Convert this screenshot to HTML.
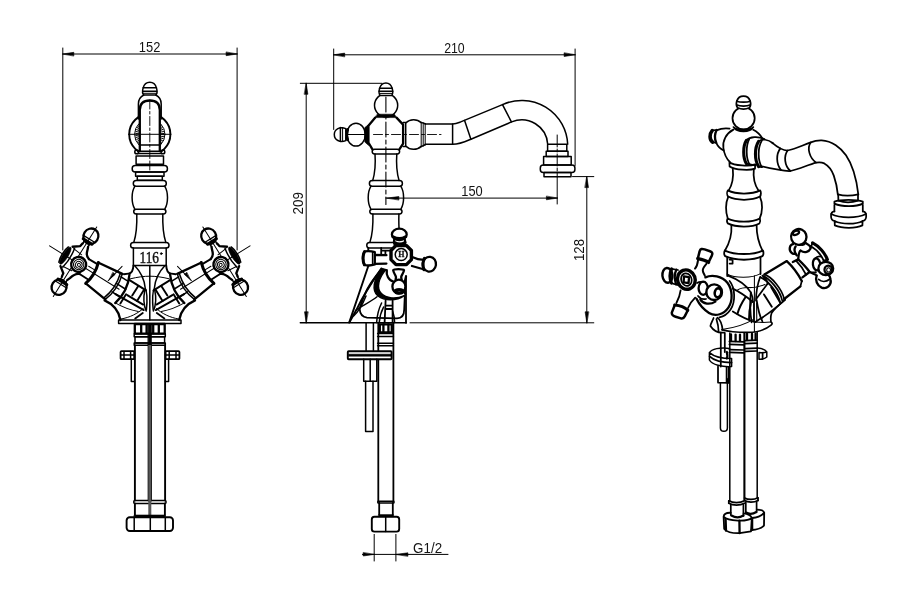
<!DOCTYPE html>
<html><head><meta charset="utf-8"><title>Faucet drawing</title>
<style>
html,body{margin:0;padding:0;background:#fff;}
body{width:900px;height:589px;overflow:hidden;font-family:"Liberation Sans",sans-serif;}
svg{display:block;filter:grayscale(1)}
svg *{fill:none;stroke:#000;stroke-width:1.5;stroke-linecap:round;stroke-linejoin:round}
svg .t{stroke-width:1.0}
svg .k{stroke-width:2.3}
svg .kk{stroke-width:3}
svg .f{fill:#000;stroke-width:0.6}
svg .w{fill:#fff}
svg .ws{fill:#fff;stroke:none}
#right *{stroke-width:1.75}
#right .t{stroke-width:1.05}
#right .k{stroke-width:2.3}
#right .kk{stroke-width:3.1}
#right .f{stroke-width:0.6}
svg .d{stroke-width:0.9;stroke-dasharray:9 2.5 2.5 2.5}
svg text{opacity:.99;fill:#111;stroke:none;font-family:"Liberation Sans",sans-serif;font-size:14.2px}
svg text.s{font-family:"Liberation Serif",serif;font-size:15.5px}
</style></head><body>
<svg width="900" height="589" viewBox="0 0 900 589">
<rect class="ws" x="0" y="0" width="900" height="589"/>

<g id="left">
<line x1="62.8" y1="48.0" x2="62.8" y2="250.0" class="t"/>
<line x1="237.1" y1="48.0" x2="237.1" y2="250.0" class="t"/>
<line x1="62.8" y1="54.0" x2="237.1" y2="54.0" class="t"/>
<polygon class="f" points="62.8,54.0 73.8,52.3 73.8,55.7"/>
<polygon class="f" points="237.1,54.0 226.1,55.7 226.1,52.3"/>
<text x="149.6" y="52.3" text-anchor="middle" textLength="21.5" lengthAdjust="spacingAndGlyphs">152</text>
<circle cx="149.8" cy="134.3" r="20.6" class="k" style="stroke-width:1.9"/>
<circle cx="149.8" cy="134.3" r="15.2" class="t"/>
<circle cx="149.8" cy="134.3" r="12.6" style="stroke-width:3.6;stroke-dasharray:0.9 0.9;stroke-linecap:butt"/>
<line x1="128.5" y1="134.3" x2="171.0" y2="134.3" class="t"/>
<rect class="ws" x="139.4" y="100" width="20.8" height="56"/>
<rect class="ws" x="134.8" y="152" width="30" height="6"/>
<path d="M143.8,95 C141.60000000000002,93 142.20000000000002,82.2 149.8,82.2 C157.4,82.2 158.0,93 155.8,95 Z"/>
<line x1="143.2" y1="87.8" x2="156.4" y2="87.8"/>
<line x1="142.8" y1="91.2" x2="156.8" y2="91.2"/>
<line x1="143.4" y1="93.3" x2="156.2" y2="93.3" class="t"/>
<path d="M143.8,95 C139.8,97 138.4,100 138.4,104 L138.4,119 M155.8,95 C159.8,97 161.20000000000002,100 161.20000000000002,104 L161.20000000000002,119"/>
<path d="M139.8,151.2 L139.8,110 C139.8,104 142.8,100.5 149.8,100.5 C156.8,100.5 159.8,104 159.8,110 L159.8,151.2" class="k"/>
<line x1="139.8" y1="134.3" x2="159.8" y2="134.3" class="t"/>
<line x1="139.8" y1="145.1" x2="159.8" y2="145.1"/>
<line x1="137.8" y1="151.2" x2="161.8" y2="151.2"/>
<circle cx="136.70000000000002" cy="151.9" r="1.9"/>
<circle cx="162.9" cy="151.9" r="1.9"/>
<path d="M137.60000000000002,153.5 L162.0,153.5"/>
<rect x="136.1" y="156.0" width="27.4" height="8.3" rx="0"/>
<rect x="132.2" y="165.4" width="35.2" height="6.7" rx="3"/>
<rect x="135.6" y="172.1" width="28.4" height="4.2" rx="0"/>
<rect x="137.3" y="176.3" width="25.0" height="3.9" rx="0"/>
<line x1="149.8" y1="100.0" x2="149.8" y2="170.0" class="d"/>
<rect x="133.3" y="180.6" width="33.0" height="5.7" rx="2.8500000000000085"/>
<path d="M134.8,186.3 C131.2,192 131.2,203 134.8,209.2 M164.8,186.3 C168.4,192 168.4,203 164.8,209.2"/>
<rect x="133.7" y="209.2" width="32.2" height="4.7" rx="2.3500000000000085"/>
<path d="M136.8,213.9 C137.2,228 135.8,236 133.8,242.4"/>
<path d="M162.8,213.9 C162.4,228 163.8,236 165.8,242.4"/>
<rect x="130.6" y="242.4" width="38.4" height="5.5" rx="2.75"/>
<path d="M133.4,247.9 L133.4,265.4 L166.20000000000002,265.4 L166.20000000000002,247.9"/>
<text class="s" x="139.6" y="263.4" textLength="19.4" lengthAdjust="spacingAndGlyphs" style="font-size:16.6px;stroke:#111;stroke-width:0.45">116</text>
<circle cx="161.3" cy="253.6" r="0.9" class="f" style="stroke-width:0.8"/>
<g transform="translate(75,261.7) rotate(32)">
<g>
<line x1="-30.0" y1="0.0" x2="52.0" y2="0.0" class="t"/>
<line x1="0.0" y1="-41.0" x2="0.0" y2="41.0" class="t"/>
<path d="M55.5,-13.3 L75.5,-13.3 M62,0.6 L80.5,0.3 M51.5,6 L84,4.6" class="k" style="stroke-width:1.9"/>
<path d="M47,-11.6 L55.5,-11.6 M47.4,6 L57,6 M47,-3.5 L57.6,-3.5"/>
<path d="M53,-18 C58,-8 58.6,4 56,13.8" class="k"/>
<path d="M66.5,-13 L66.5,-1.6 M60.6,0.6 L60.6,11.4 M73.4,-13 L73.4,0.4" class="k" style="stroke-width:1.9"/>
<path d="M56,13.6 C64,13.4 72,12 80,8.6" class="t"/>
<path d="M20.6,-11.6 L46.6,-14.8 M21,12.8 L45.6,15.9" class="k"/>
<path d="M46.6,-14.8 C49.4,-5 49.4,6 45.6,15.9 M44.6,-14.5 C47.2,-5 47.2,6 43.6,15.6"/>
<polygon class="f" points="38,-11 40.8,-10.5 38.6,-3.8"/>
<line x1="42.4" y1="-21.0" x2="38.2" y2="-1.6" class="t"/>
<path d="M20.2,-11.6 C22.8,-4 22.8,5 20.6,12.8" class="kk"/>
<path d="M10.4,-9.6 L20.2,-9.8 M10.4,8 L20.6,8.2" class="k" style="stroke-width:1.9"/>
<path d="M14,-3.4 L21,-3.4" class="t"/>
<path d="M-3.3,-19.4 L-3.8,-16 L-10,-11.4 M-3.3,19.4 L-3.8,16 L-10,11.4 M3.3,-19.4 L4.4,-16.6 C5.4,-12.6 7.4,-10.2 10.4,-9.6 M3.3,19.4 L4.4,16.6 C5.4,12.6 7.4,9 10.4,8" class="k"/>
<ellipse class="k" cx="0" cy="-30" rx="7.4" ry="7.9"/>
<path class="kk" d="M-5.2,-23.8 L5.2,-23.8"/>
<path d="M-3.3,-22.6 L-2.8,-19.4 M3.3,-22.6 L3,-19.4"/>
<path class="k" d="M-6.8,-26.8 L6.8,-26.8" style="stroke-width:1.2"/>
<ellipse class="k" cx="0" cy="30" rx="7.4" ry="7.9"/>
<path class="kk" d="M-5.2,23.8 L5.2,23.8"/>
<path d="M-3.3,22.6 L-2.8,19.4 M3.3,22.6 L3,19.4"/>
<path class="k" d="M-6.8,26.8 L6.8,26.8" style="stroke-width:1.2"/>
<ellipse class="f" cx="-11.4" cy="0" rx="2.7" ry="10"/>
<path d="M-13.4,-9 C-15.4,-4 -15.4,4 -13.4,9"/>
<path d="M-8,-10.4 L2,-9.4 M-8,10.4 L2,9.4" class="t"/>
<path d="M-7.4,-11 C-6,-4 -6,4 -7.4,11"/>
<circle class="w" cx="4.6" cy="0.4" r="7.5" style="stroke-width:2.4"/>
<circle cx="4.6" cy="0.4" r="5.2" class="t"/>
<circle cx="4.8" cy="0.6" r="3.3" class="t"/>
<circle cx="5" cy="0.6" r="1.5" class="t"/>
</g>
</g>
<g transform="translate(224.6,261.7) scale(-1,1) rotate(32)">
<g>
<line x1="-30.0" y1="0.0" x2="52.0" y2="0.0" class="t"/>
<line x1="0.0" y1="-41.0" x2="0.0" y2="41.0" class="t"/>
<path d="M55.5,-13.3 L75.5,-13.3 M62,0.6 L80.5,0.3 M51.5,6 L84,4.6" class="k" style="stroke-width:1.9"/>
<path d="M47,-11.6 L55.5,-11.6 M47.4,6 L57,6 M47,-3.5 L57.6,-3.5"/>
<path d="M53,-18 C58,-8 58.6,4 56,13.8" class="k"/>
<path d="M66.5,-13 L66.5,-1.6 M60.6,0.6 L60.6,11.4 M73.4,-13 L73.4,0.4" class="k" style="stroke-width:1.9"/>
<path d="M56,13.6 C64,13.4 72,12 80,8.6" class="t"/>
<path d="M20.6,-11.6 L46.6,-14.8 M21,12.8 L45.6,15.9" class="k"/>
<path d="M46.6,-14.8 C49.4,-5 49.4,6 45.6,15.9 M44.6,-14.5 C47.2,-5 47.2,6 43.6,15.6"/>
<polygon class="f" points="38,-11 40.8,-10.5 38.6,-3.8"/>
<line x1="42.4" y1="-21.0" x2="38.2" y2="-1.6" class="t"/>
<path d="M20.2,-11.6 C22.8,-4 22.8,5 20.6,12.8" class="kk"/>
<path d="M10.4,-9.6 L20.2,-9.8 M10.4,8 L20.6,8.2" class="k" style="stroke-width:1.9"/>
<path d="M14,-3.4 L21,-3.4" class="t"/>
<path d="M-3.3,-19.4 L-3.8,-16 L-10,-11.4 M-3.3,19.4 L-3.8,16 L-10,11.4 M3.3,-19.4 L4.4,-16.6 C5.4,-12.6 7.4,-10.2 10.4,-9.6 M3.3,19.4 L4.4,16.6 C5.4,12.6 7.4,9 10.4,8" class="k"/>
<ellipse class="k" cx="0" cy="-30" rx="7.4" ry="7.9"/>
<path class="kk" d="M-5.2,-23.8 L5.2,-23.8"/>
<path d="M-3.3,-22.6 L-2.8,-19.4 M3.3,-22.6 L3,-19.4"/>
<path class="k" d="M-6.8,-26.8 L6.8,-26.8" style="stroke-width:1.2"/>
<ellipse class="k" cx="0" cy="30" rx="7.4" ry="7.9"/>
<path class="kk" d="M-5.2,23.8 L5.2,23.8"/>
<path d="M-3.3,22.6 L-2.8,19.4 M3.3,22.6 L3,19.4"/>
<path class="k" d="M-6.8,26.8 L6.8,26.8" style="stroke-width:1.2"/>
<ellipse class="f" cx="-11.4" cy="0" rx="2.7" ry="10"/>
<path d="M-13.4,-9 C-15.4,-4 -15.4,4 -13.4,9"/>
<path d="M-8,-10.4 L2,-9.4 M-8,10.4 L2,9.4" class="t"/>
<path d="M-7.4,-11 C-6,-4 -6,4 -7.4,11"/>
<circle class="w" cx="4.6" cy="0.4" r="7.5" style="stroke-width:2.4"/>
<circle cx="4.6" cy="0.4" r="5.2" class="t"/>
<circle cx="4.8" cy="0.6" r="3.3" class="t"/>
<circle cx="5" cy="0.6" r="1.5" class="t"/>
</g>
</g>
<path d="M133.4,265.4 C133.20000000000002,270.5 131.20000000000002,273.4 128.4,273.6 L123.80000000000001,274.2" class="k" style="stroke-width:1.9"/>
<path d="M104.60000000000001,300.4 C112.80000000000001,304 118.80000000000001,310.5 120.4,320" class="k"/>
<path d="M134.8,265.8 C140.8,272 144.4,280 145.20000000000002,288 C147.20000000000002,292 147.4,300 146.4,310" />
<path d="M144.8,290.4 C143.4,297 143.60000000000002,305 146.20000000000002,311" />
<path d="M130.4,278.8 C137.8,277 143.8,276.2 149.8,276.2" class="t"/>
<path d="M121.00000000000001,319 C129.8,317.6 137.8,313.4 143.20000000000002,308.6" class="t"/>
<path d="M135.20000000000002,318.4 L142.8,313" class="k" style="stroke-width:1.8"/>
<g transform="translate(299.6,0) scale(-1,1)">
<path d="M133.4,265.4 C133.20000000000002,270.5 131.20000000000002,273.4 128.4,273.6 L123.80000000000001,274.2" class="k" style="stroke-width:1.9"/>
<path d="M104.60000000000001,300.4 C112.80000000000001,304 118.80000000000001,310.5 120.4,320" class="k"/>
<path d="M134.8,265.8 C140.8,272 144.4,280 145.20000000000002,288 C147.20000000000002,292 147.4,300 146.4,310" />
<path d="M144.8,290.4 C143.4,297 143.60000000000002,305 146.20000000000002,311" />
<path d="M130.4,278.8 C137.8,277 143.8,276.2 149.8,276.2" class="t"/>
<path d="M121.00000000000001,319 C129.8,317.6 137.8,313.4 143.20000000000002,308.6" class="t"/>
<path d="M135.20000000000002,318.4 L142.8,313" class="k" style="stroke-width:1.8"/>
</g>
<line x1="149.8" y1="265.4" x2="149.8" y2="320.0"/>
<rect x="118.6" y="320.0" width="62.4" height="3.5" rx="0"/>
<rect x="134.8" y="324.0" width="29.9" height="9.6" rx="0" class="k"/>
<line x1="141.2" y1="324.5" x2="141.2" y2="333.2" class="k"/>
<line x1="146.6" y1="324.5" x2="146.6" y2="333.2" class="k"/>
<line x1="153.2" y1="324.5" x2="153.2" y2="333.2" class="k"/>
<line x1="158.8" y1="324.5" x2="158.8" y2="333.2" class="k"/>
<rect class="f" x="148.10000000000002" y="324" width="3.4" height="21"/>
<rect x="134.2" y="333.8" width="31.1" height="3.0" rx="0"/>
<rect x="135.0" y="336.8" width="29.6" height="6.2" rx="0"/>
<rect x="134.2" y="343.0" width="31.1" height="2.2" rx="0"/>
<path d="M134.9,345.2 L134.9,500.6 M148.60000000000002,345.2 L148.60000000000002,500.6 M151.0,345.2 L151.0,500.6 M165.1,345.2 L165.1,500.6" class="k" style="stroke-width:1.9"/>
<rect x="120.6" y="351.1" width="13.6" height="8.1" rx="0.8" class="k" style="stroke-width:1.8"/>
<line x1="120.6" y1="355.1" x2="134.2" y2="355.1"/>
<rect x="165.6" y="351.1" width="13.8" height="8.1" rx="0.8" class="k" style="stroke-width:1.8"/>
<line x1="165.6" y1="355.1" x2="179.4" y2="355.1"/>
<line x1="124.0" y1="351.5" x2="124.0" y2="359.0"/>
<line x1="176.0" y1="351.5" x2="176.0" y2="359.0"/>
<line x1="130.6" y1="351.5" x2="130.6" y2="359.0"/>
<line x1="169.2" y1="351.5" x2="169.2" y2="359.0"/>
<path d="M131.3,359.2 L131.3,381.6 L134.2,381.6 M168.6,359.2 L168.6,381.6 L165.4,381.6"/>
<rect x="133.8" y="500.6" width="32.2" height="2.8" rx="1"/>
<path d="M134.9,503.4 L134.9,515 M164.9,503.4 L164.9,515" class="k" style="stroke-width:1.9"/>
<rect class="f" x="148.3" y="345" width="3" height="172" style="fill:#555;stroke:none"/>
<rect x="134.4" y="515.0" width="30.9" height="2.0" rx="0" class="f"/>
<rect x="126.6" y="517.2" width="46.4" height="13.8" rx="3.2" class="k" style="stroke-width:1.9"/>
<line x1="134.2" y1="517.5" x2="134.2" y2="530.8"/>
<line x1="150.3" y1="517.5" x2="150.3" y2="530.8"/>
<line x1="165.3" y1="517.5" x2="165.3" y2="530.8"/>
</g>
<g id="mid">
<line x1="333.7" y1="49.0" x2="333.7" y2="129.5" class="t"/>
<line x1="575.1" y1="49.0" x2="575.1" y2="165.5" class="t"/>
<line x1="333.7" y1="54.8" x2="575.1" y2="54.8" class="t"/>
<polygon class="f" points="333.7,54.8 344.7,53.1 344.7,56.5"/>
<polygon class="f" points="575.1,54.8 564.1,56.5 564.1,53.1"/>
<text x="454.4" y="52.6" text-anchor="middle" textLength="20.5" lengthAdjust="spacingAndGlyphs">210</text>
<line x1="300.3" y1="83.3" x2="382.0" y2="83.3" class="t"/>
<line x1="306.2" y1="83.3" x2="306.2" y2="322.8" class="t"/>
<polygon class="f" points="306.2,83.3 307.9,94.3 304.5,94.3"/>
<polygon class="f" points="306.2,322.8 304.5,311.8 307.9,311.8"/>
<text transform="translate(302.6,203.2) rotate(-90)" text-anchor="middle" textLength="22.5" lengthAdjust="spacingAndGlyphs">209</text>
<line x1="300.3" y1="322.8" x2="406.4" y2="322.8"/>
<line x1="410.0" y1="322.8" x2="593.8" y2="322.8" class="t"/>
<line x1="385.9" y1="198.1" x2="557.4" y2="198.1" class="t"/>
<polygon class="f" points="557.4,198.1 546.4,199.8 546.4,196.4"/>
<polygon class="f" points="386.9,198.1 398.9,196.5 398.9,199.7"/>
<text x="472" y="196.2" text-anchor="middle" textLength="21.4" lengthAdjust="spacingAndGlyphs">150</text>
<line x1="572.5" y1="176.6" x2="593.8" y2="176.6" class="t"/>
<line x1="586.8" y1="176.6" x2="586.8" y2="322.8" class="t"/>
<polygon class="f" points="586.8,176.6 588.5,187.6 585.1,187.6"/>
<polygon class="f" points="586.8,322.8 585.1,311.8 588.5,311.8"/>
<text transform="translate(583.6,250) rotate(-90)" text-anchor="middle" textLength="22" lengthAdjust="spacingAndGlyphs">128</text>
<circle cx="386.09999999999997" cy="105.3" r="11.6"/>
<path d="M380.29999999999995,95.6 C378.09999999999997,93.6 378.7,83 385.9,83 C393.09999999999997,83 393.7,93.6 391.5,95.6 Z" class="w"/>
<line x1="379.5" y1="88.3" x2="392.3" y2="88.3"/>
<line x1="379.1" y1="91.2" x2="392.7" y2="91.2"/>
<line x1="379.7" y1="93.4" x2="392.1" y2="93.4" class="t"/>
<path class="f" d="M377.4,114.2 L394.4,114.2 L396.5,117.6 L375.29999999999995,117.6 Z"/>
<path d="M375.29999999999995,117.6 L368.4,125.8 L368.4,142.5 L372.29999999999995,149.2 M396.5,117.6 L403.09999999999997,124.6 L403.09999999999997,143.6 L399.5,149.2" class="k"/>
<rect x="372.2" y="149.2" width="27.4" height="4.7" rx="2.3500000000000085"/>
<path d="M375.0,153.9 C375.7,164 375.29999999999995,172 372.7,180.6 M396.79999999999995,153.9 C396.09999999999997,164 396.5,172 399.09999999999997,180.6"/>
<rect x="369.4" y="180.6" width="33.0" height="5.7" rx="2.8500000000000085"/>
<path d="M370.9,186.3 C367.3,192 367.3,203 370.9,209.2 M400.9,186.3 C404.5,192 404.5,203 400.9,209.2"/>
<rect x="369.8" y="209.2" width="32.2" height="4.7" rx="2.3500000000000085"/>
<path d="M372.9,213.9 C373.3,228 371.9,236 369.9,242.4"/>
<path d="M398.9,213.9 C398.7,222 398.9,228 399.29999999999995,232"/>
<path d="M393.9,242.4 L369.5,242.4 A2.7,2.7 0 0 0 369.5,247.9 L391.9,247.9"/>
<ellipse cx="356" cy="134.6" rx="9.3" ry="11.4"/>
<path d="M347.6,129.6 C346.4,133 346.4,136.6 347.6,139.6" class="kk"/>
<path d="M345.8,128.6 L345.8,140.6 C340,143 334.3,140 334.3,134.5 C334.3,129 340,126.2 345.8,128.6 Z" class="w"/>
<line x1="340.4" y1="127.6" x2="340.4" y2="141.4"/>
<line x1="342.6" y1="127.4" x2="342.6" y2="141.6" class="t"/>
<line x1="345.8" y1="131.0" x2="347.4" y2="131.0"/>
<line x1="345.8" y1="138.0" x2="347.4" y2="138.0"/>
<line x1="347.4" y1="134.5" x2="364.8" y2="134.5" class="t"/>
<path class="f" d="M364.8,127.6 L368.6,124.6 L368.6,145.4 L364.8,142 Z"/>
<path d="M403.09999999999997,122.4 L405.7,122.4 L405.7,146.6 L403.09999999999997,146.6"/>
<path d="M405.7,123 C410,118.6 417,118.6 421.2,122.6 M405.7,146 C410,150.4 417,150.4 421.2,146.4"/>
<path d="M421.2,122.4 L421.2,146.6 M423.2,122.8 L423.2,146.2 M425.2,123.6 L425.2,145" class="t"/>
<path d="M421.2,122.4 L425.2,123.8 M421.2,146.6 L425.2,144.8"/>
<line x1="385.9" y1="97.0" x2="385.9" y2="204.5" class="d" style="stroke-dasharray:15 3 4 3;stroke-width:1.1"/>
<line x1="373.5" y1="134.5" x2="441.0" y2="134.5" class="d" style="stroke-dasharray:9 3 3 3"/>
<path d="M425.2,124 L452.6,124 C456,124 458,123 460.7,121.9 L502.5,104.6 A46,46 0 0 1 567.7,144.3"/>
<path d="M425.2,144.3 L452.6,144.3 C460,144.3 465,141.8 470.9,139.2 L511.6,121.9 A26,26 0 0 1 547.7,144.3"/>
<line x1="452.6" y1="124.0" x2="452.6" y2="144.3"/>
<line x1="464.6" y1="120.4" x2="470.9" y2="139.2"/>
<line x1="502.5" y1="104.6" x2="511.4" y2="121.9"/>
<rect x="547.6" y="144.3" width="19.2" height="6.9" rx="0"/>
<rect x="546.2" y="151.2" width="21.8" height="5.3" rx="0"/>
<rect x="543.6" y="156.5" width="27.6" height="8.5" rx="0"/>
<rect x="540.3" y="165.0" width="34.6" height="7.4" rx="3"/>
<rect x="544.0" y="172.4" width="27.0" height="4.4" rx="0"/>
<line x1="557.2" y1="135.0" x2="557.2" y2="176.8" class="t" style="stroke-dasharray:12 2 3 2"/>
<line x1="557.2" y1="176.8" x2="557.2" y2="204.0" class="t"/>
<path d="M368.3,247.9 L368.3,266 L349.2,322.6" class="k" style="stroke-width:1.9"/>
<path d="M406,276 L406,322.8" class="k" style="stroke-width:1.8"/>
<path d="M381.4,268.4 C372,282 362,298 356.4,309.8 L349.6,322" class="k" style="stroke-width:1.9"/>
<path d="M380.2,270.8 C374,278 370,284 367.2,289.2 C364,296 361.6,302 359.6,308.6" class="k" style="stroke-width:1.8"/>
<path d="M356.4,309.8 C362,306 372,301 377,296.8"/>
<path d="M353.6,316 C358,312 362,306 366,296" />
<path d="M382.4,268.6 C373,279 371.6,291 378,296 C384,300.6 396,301.6 404.2,295.6 C396,299.6 386,298.4 381.4,293.6 C376,288 378.6,278 386,269.6 Z" class="f" style="stroke-width:1.4"/>
<path d="M386.8,270.2 C386,275 388.6,280.6 393.4,281.6" class="k"/>
<path d="M359.6,308.8 C360,314 362,317.2 367,317.6 L397,318.4 C402,318.4 404.2,315 404.2,309.6 L404.8,296" class="k" style="stroke-width:1.8"/>
<path d="M385.6,300.6 L384.6,322.6 M392.6,300.6 L392.6,322.6 M385.4,305.6 L392.6,305.6 M385.2,309 L392.6,309" class="k" style="stroke-width:1.8"/>
<path d="M383.6,307 C381,312 379.6,317 379.2,322.6 M381.6,303 C378.6,309 377,316 376.6,322.6"/>
<path d="M406,276.6 C404.6,281 404.6,288 405.2,294" class="k"/>
<path d="M392.6,311 C394,315 394.6,319 394.6,322.6"/>
<path d="M374.8,255 L386.4,255.2 M374.8,263.8 L386.4,263.6" class="k"/>
<path d="M364.6,251.4 C368,250.8 372,251.2 374.8,252.2 L374.8,264.4 C372,265.4 368,265.8 364.6,265 C362.4,262 362.4,254.6 364.6,251.4 Z" class="w k"/>
<path d="M364.4,251.8 C362.6,255.6 362.6,261.4 364.4,264.8" class="kk"/>
<line x1="372.6" y1="252.0" x2="372.6" y2="264.8"/>
<path d="M381.2,248 L381.2,254.8 M381.2,250.6 L389.6,250.6 M385.4,250.6 L385.4,254.8" class="k" style="stroke-width:1.8"/>
<ellipse class="w k" cx="399.3" cy="234.4" rx="7.4" ry="5.7"/>
<path d="M393,236.8 C397,239 402,239 405.6,236.8" class="kk"/>
<path d="M394.2,239.6 C393.6,241.6 394,243.6 394.8,245.4 M404.8,239.6 C405.6,241.6 405.4,243.6 404.8,245.4" class="k"/>
<path d="M394.6,242.6 C398,244.4 402,244.4 405,242.6" class="kk"/>
<path d="M412.8,257.2 C416,258.6 419.6,259.8 422.6,259.6 M412,266 C416,267.2 419.6,268.2 422.6,269" class="k"/>
<ellipse class="w k" cx="429.3" cy="264.2" rx="6.7" ry="7.4" transform="rotate(8 429.3 264.2)"/>
<path d="M424.4,258.4 C422.8,262 422.8,266.4 424,269.8" class="kk"/>
<path class="w" d="M396,245.6 L406.4,245.6 L411.4,250.4 L411.4,259.6 L406.4,264.6 L396,264.6 L391,259.6 L391,250.4 Z" style="stroke-width:3.4"/>
<circle cx="401.2" cy="254.6" r="6" style="stroke-width:1.5"/>
<text class="s" x="401.3" y="257.4" text-anchor="middle" style="font-size:8px;font-weight:bold;stroke:#111;stroke-width:0.3">H</text>
<path d="M393.2,270.2 C394,268.8 403,268.8 404,270.2 C403.6,273.4 401.6,274.6 401.2,277 L401.6,280 M393.2,270.2 C393.6,273.4 395.6,274.8 396,277.2 L395.6,280" class="k"/>
<ellipse class="w k" cx="398.9" cy="286.6" rx="6.5" ry="6.9"/>
<path d="M394,291 C396,289 402,289 404,291" class="k"/>
<ellipse cx="399.2" cy="291.4" rx="3.6" ry="1.7" class="kk"/>
<path d="M366.1,323 L366.1,351 M373.4,323 L373.4,351"/>
<path d="M378.3,323 L378.3,501 M393.4,323 L393.4,501" class="k" style="stroke-width:1.8"/>
<rect x="379.8" y="324.4" width="12.0" height="8.0" rx="0" class="k"/>
<line x1="383.4" y1="324.4" x2="383.4" y2="332.4" class="k"/>
<line x1="388.4" y1="324.4" x2="388.4" y2="332.4" class="k"/>
<path d="M377.6,333.6 L393.4,333.6 M377.6,336.6 L393.4,336.6 M377.6,343.2 L393.4,343.2 M377.6,345.8 L393.4,345.8"/>
<rect x="347.8" y="351.2" width="43.8" height="8.0" rx="0.8" class="w k" style="stroke-width:1.9"/>
<rect class="f" x="348.6" y="354.2" width="42.4" height="2"/>
<path d="M363.7,359.2 L363.7,381.2 L376.8,381.2 L376.8,359.2 M370.2,359.2 L370.2,381.2"/>
<path d="M365.6,381.2 L365.6,431.4 L373,431.4 L373,381.2"/>
<rect x="377.8" y="501.2" width="16.2" height="1.8" rx="0.6"/>
<path d="M379.2,503 L379.2,514.8 M392.8,503 L392.8,514.8" class="k" style="stroke-width:1.8"/>
<rect x="378.8" y="514.6" width="14.6" height="2.0" rx="0" class="f"/>
<rect x="371.8" y="516.8" width="27.4" height="14.8" rx="2.6" class="k" style="stroke-width:1.9"/>
<line x1="385.7" y1="517.0" x2="385.7" y2="531.4"/>
<line x1="374.2" y1="534.4" x2="374.2" y2="561.0" class="t"/>
<line x1="395.9" y1="534.4" x2="395.9" y2="561.0" class="t"/>
<line x1="362.4" y1="554.4" x2="448.0" y2="554.4" class="t"/>
<polygon class="f" points="374.2,554.4 363.2,556.0 363.2,552.8"/>
<polygon class="f" points="395.9,554.4 407.9,552.8 407.9,556.0"/>
<text x="427.6" y="552.8" text-anchor="middle" textLength="29" lengthAdjust="spacingAndGlyphs" style="font-size:13.8px">G1/2</text>
</g>
<g id="right">
<circle cx="743.6" cy="118.3" r="11.1"/>
<path d="M737.6,107.8 C735.4,105 736,96 743.5,96 C751,96 751.6,105 749.4,107.8 C746,109.4 741,109.4 737.6,107.8 Z" class="w"/>
<path d="M736.8,101.2 C740,102.4 747,102.4 750.2,101.2 M737,105 C740,106.4 747,106.4 750,105"/>
<path d="M733.4,127 C737,130.4 750,130.4 753.4,127 C750,132.8 737,132.8 733.4,127 Z" class="f" style="stroke-width:1.6"/>
<path d="M733.4,129.6 C726,133.4 722.4,141 723.4,148 C724.2,154.6 727.4,159.6 730,162.2"/>
<path d="M753.2,129.8 C757,131.6 760,134.4 762.6,138.6"/>
<path d="M729.6,128.6 C724.4,127.8 720,128.8 716.4,130.4 M716,142.4 C717.6,146 720.4,149 723.6,150.4"/>
<path d="M716.6,130 C714.6,134 714.6,139 716.2,142.6" class="k"/>
<path d="M712.2,130.6 C709.2,134 709.4,139.6 712.6,142.2" class="kk" style="stroke-width:3.6"/>
<path d="M712.2,130.4 L716.6,130 M712.6,142.4 L716.2,142.6"/>
<path d="M746.4,140.4 C742.8,146 742.8,158 746.4,163.6" class="kk"/>
<path d="M749.2,139.2 C745.8,146 745.8,158 749.6,164.4"/>
<path d="M746.4,140.4 C750,136.6 758,136.2 764.4,139 M746.4,163.6 L749.6,164.4"/>
<path d="M758.6,141.4 C754.4,148 754.4,160 758.6,166.6" class="kk"/>
<path d="M761.8,140.6 C757.6,148 757.6,160 761.8,167.2"/>
<path d="M758.6,141.4 C762,138.4 768,139.4 773,143.2 M758.6,166.6 L761.8,167.2"/>
<path d="M749.6,164.4 L755.6,165.4"/>
<path d="M772,142.6 C776,146 782,150.6 787.6,150.5 C796,149 803,145 810.7,142.4 C814,141 818,140.3 821.6,140.4 C832,140.8 841,148 846,155.3 C852,164 856.4,178 858.3,194.4"/>
<path d="M761.8,166.4 C768,168 774,169 778.2,169.6 C783,170.6 787,171.2 790.4,171 C799,169 808,165 816.1,162.7 C819,162.2 822,162.4 824.3,163.4 C829,166 832,170.4 833.8,175.6 C836,182 837.2,188 837.8,194.4"/>
<path d="M780.4,148.4 C776,154 776,164 781,170 M787.6,150.5 C783.6,156 784.4,166 790.4,171 M810.7,142.4 C806.6,148 809.6,158 816.1,162.6"/>
<path d="M837.8,194.4 C843,195.8 852,195.8 858.3,194.4"/>
<path d="M838.2,194.6 L838.4,200.6 M858,194.6 L858,200.6 M838.4,200.6 C844,202.6 852,202.6 858,200.6"/>
<path d="M834.4,201.6 C840,199.4 857,199.4 862.8,201.6 L862.8,211.4 M834.4,201.6 L834.4,211.4 M834.4,203.6 C842,207 856,207 862.8,203.6"/>
<path d="M834.4,211.4 C832,211.6 831,213 831,216 C831,219 832,220.6 834.6,221 M862.8,211.4 C865.2,211.6 866.2,213 866.2,216 C866.2,219 865.2,220.6 862.6,221"/>
<path d="M831.2,214 C840,218.4 857,218.4 866,214 M834.6,221 C842,224.6 856,224.6 862.6,221 M834.6,221 L834.8,225.4 C842,228.6 856,228.6 862.4,225.4 L862.6,221"/>
<path d="M729.4,162.2 C734,165.6 750,166.6 755.2,164.4 M729.4,162.2 L729.6,166.4 C735,170 750,170.6 755,168.6 L755.2,164.4"/>
<path d="M732.8,168.6 C733.6,176 733.4,183 728.6,190.6 M753.8,169.4 C753,177 754,184 758.6,190.8"/>
<path d="M727.8,190.4 C726.8,192 726.8,195 728.2,196.6 C736,200.8 752,200.8 760,196.6 C761.2,195 761.2,192 760.2,190.4 M727.8,190.4 C736,194.6 752,194.6 760.2,190.4"/>
<path d="M728.2,196.8 C725.4,203 725.4,212 727.8,218.6 M760,196.8 C762.8,203 762.8,212 759.6,218.6"/>
<path d="M727.6,218.6 C726.8,220 726.8,222 727.8,223.4 C736,227.6 752,227.6 759.4,223.4 C760.4,222 760.4,220 759.8,218.6 M727.6,218.6 C736,222.6 752,222.6 759.8,218.6"/>
<path d="M731.4,225.4 C732,235 729.6,243 724.9,250.8 M756.6,225.4 C756.6,235 758.6,243 762.6,250.8"/>
<path d="M724.9,250.6 C724,252 724,254.8 725.2,256.2 C735,260.8 753,260.8 762.4,256.2 C763.6,254.8 763.6,252 762.8,250.6 M724.9,250.6 C735,255.2 753,255.2 762.8,250.6" class="k" style="stroke-width:2"/>
<path d="M727.2,257.4 L727.2,276 M760.5,257.4 L760.5,274"/>
<path d="M729.6,259.6 L732.6,260 L732.6,263.6 L729.6,263.6"/>
<path d="M727,274 C735,278.4 752,278.4 760.6,273.6" class="t"/>
<path d="M764.4,274.4 L786.4,261.2 M784.2,299 L800.4,286.4" class="k"/>
<path d="M764.4,274.4 C772,277 782,289 784.2,299 M762.4,275.6 C770,278.6 780,290.4 782.2,300.4" class="k" style="stroke-width:1.7"/>
<path d="M786.8,261.2 C792,266 798,274 801.8,281" class="k"/>
<path d="M801.8,281 L800.4,286.4"/>
<path d="M792.8,262 L798.2,259.4 C802,263 806.6,267.6 809.6,272 L802.4,277.4" class="k"/>
<path d="M796,260.6 C800,264.6 803.6,269.6 806,274.6"/>
<path d="M798.2,259.4 C798.6,254 799.6,251 800.6,250.6 M809.6,272 C812,272.6 814,272.8 815.6,272.4" class="k"/>
<path d="M812.6,242.8 C819,246 825,253 827.4,259.6" class="kk"/>
<path d="M810.4,246 C816,249 821,254.6 823.6,260.4"/>
<path d="M810.6,247.6 L812.6,242.8 M823.6,260.6 L827.4,259.6"/>
<ellipse cx="798.8" cy="236.9" rx="7.7" ry="7.9" transform="rotate(-20 798.8 236.9)" class="k"/>
<ellipse cx="796" cy="232.8" rx="3.2" ry="1.9" transform="rotate(-25 796 232.8)" class="k"/>
<path d="M793,244.2 C789.4,245 788.6,250 791.4,252.6 C792.6,253.8 794,254 795,253.6" class="k"/>
<path d="M795.6,246.4 C794,249 794.4,252.6 796.8,255.4" class="k"/>
<path d="M805.6,243 C808.6,244.6 810.8,247 810.6,248.4 C809,251.6 805,253.6 800.6,250.6" class="k"/>
<path d="M800.4,244.6 C802,245.6 804,245.2 805.6,243"/>
<ellipse cx="816.6" cy="264.4" rx="3.7" ry="6.1" transform="rotate(-8 816.6 264.4)" class="k"/>
<ellipse cx="825.8" cy="268.4" rx="7.4" ry="6.6" class="w k"/>
<ellipse cx="828.3" cy="269.7" rx="3.8" ry="4.1" class="k"/>
<ellipse cx="828.6" cy="269.9" rx="1.9" ry="2.2" class="t"/>
<path d="M815,258.6 C816.6,256.6 819,256 821,256.6"/>
<path d="M816.6,275.6 C815,280 817,285.6 821.6,287.6 C827,289.6 831.6,285 830.6,279.4 C830.4,277.6 829.6,276 828.6,274.8" class="k"/>
<path d="M818.6,279.4 C821.6,282 826,282 829.6,279.2"/>
<path d="M809.6,272 C812,273.6 814.6,274.6 816.8,275.4"/>
<path d="M705.4,277.4 C712,274.4 722,276 727.6,283 C732.6,289.6 733,301 728.4,307.6 C724,314 716,317.2 709,313 C703.6,309.6 699,304 696.4,298.6" class="k"/>
<path d="M729.6,281 C735.4,288 735.6,302 730.6,309.6 C727.6,314 724,316.6 719.4,317.4"/>
<path d="M697.8,258.6 L699.6,251.4 C700.4,248.6 702,248.6 704.6,249.4 L710,251.2 C712.4,252 712.8,253.4 711.8,255.6 L708.6,262.2" class="k" style="stroke-width:2.5"/>
<path d="M697.8,258.6 C701,259.2 706,260.6 708.6,262.4" class="kk" style="stroke-width:3.3"/>
<path d="M698,260.4 C697.6,264 696.8,266.6 695,268.6 M706.4,263.8 C704,266.6 702.6,269 702.8,270.6 C703,272.6 704,274 704.8,275.6" class="k" style="stroke-width:2"/>
<ellipse cx="667.4" cy="275.4" rx="5" ry="7.4" transform="rotate(-6 667.4 275.4)" class="k" style="stroke-width:2.4"/>
<path d="M671.6,269 C669.8,273 669.8,279 671.4,283" class="kk" style="stroke-width:3.2"/>
<path d="M676.4,269.6 C674.6,273.4 674.6,280 676,284.4" class="k"/>
<path d="M671.6,268.8 L678,270 M671.4,283.2 L677.6,285"/>
<path d="M674.8,305 L671.8,312.6 C671.6,315 673,316 675.6,316.8 L681,318.4 C683,318.8 684,318 684.6,316.6 L687.8,310.2" class="k" style="stroke-width:2.5"/>
<path d="M674.8,305 C679,305.4 685,307.6 687.8,310.2" class="kk"/>
<path d="M676.4,303 C678.6,299 680,295 680.6,290.4 M688,308 C689.6,304 692,300.6 695.2,297.6" class="k" style="stroke-width:1.8"/>
<ellipse cx="686.4" cy="279.6" rx="8.8" ry="9.8" transform="rotate(-20 686.4 279.6)" class="w" style="stroke-width:3.4"/>
<ellipse cx="686.4" cy="279.6" rx="5.2" ry="6.4" transform="rotate(-20 686.4 279.6)" style="stroke-width:1.7"/>
<path d="M684,276.4 L689,277.2 L688.6,283.2 L683.6,282.4 Z" class="k"/>
<ellipse cx="703.2" cy="288.2" rx="4.6" ry="6.6" class="w k"/>
<path d="M697,283 C699,281.6 701,281.6 703,282 M698,296 C700,298.6 703,299.6 706,299"/>
<ellipse cx="714.2" cy="292.2" rx="7.8" ry="7.8" class="w k"/>
<ellipse cx="718" cy="292.8" rx="3.3" ry="4.5" transform="rotate(8 718 292.8)" style="stroke-width:2.6"/>
<path d="M700.4,299.6 C703,304 710,305 715.4,301.6" class="k"/>
<path d="M732.8,288.6 C740,292 747,297 753,302 M732.8,311.4 C740,316 748,320 755.4,322" class="k" style="stroke-width:1.8"/>
<path d="M745.2,297.6 C741.6,303 739,308 737.4,314 M751,302.4 C749.6,308 749,314 749,319.6" class="k" style="stroke-width:1.9"/>
<path d="M767.4,284 L756.6,298.4 M785.2,299.6 C778,306 770,312.4 762.6,317.4" class="k" style="stroke-width:1.7"/>
<path d="M771.2,287.2 L780,302.2 M764,294.4 L771.8,306.8" class="k" style="stroke-width:1.9"/>
<path d="M760.6,277.4 C768,280.6 777.6,292 780,302" class="k" style="stroke-width:1.7"/>
<path d="M763.2,276.6 C766,279 768,281.6 767.4,284 M762.6,317.4 C760,319 757.6,320.4 755.4,322"/>
<path d="M728,275.6 C737,279 746.4,285 750.8,292.4 C752.4,296 753,299 753,302" />
<path d="M760.2,276.8 C757.6,284 756,293 756,300.6"/>
<path d="M750.8,292.4 C749.8,302 750,312 751.6,322.4 M756.6,300 C757.8,308 759.6,316 762.4,321.4"/>
<path d="M753.6,303 L753.6,322 M756.6,303 L756.8,322" class="t"/>
<path d="M737.6,290 C741,287.8 745,287.4 749.6,287.6 C755,287.6 760,286.4 765,284.6" class="t"/>
<line x1="754.4" y1="275.8" x2="754.4" y2="331.6" class="t"/>
<path d="M785.2,299.6 C780,304 774,309 771.6,313 C770.6,316 770.6,319 771,322 C772.4,323 772.4,324 771.4,324.8 C765,330 757,332.4 748,332.4 C738,332.4 728,331.6 722,329.8" class="k" style="stroke-width:1.7"/>
<path d="M713.6,318 C712,322 710.4,324.6 710.4,326 C713,330 718,333.4 724.6,332.6"/>
<path d="M722.6,330 C722,324 720.6,320 717.4,317.6 M716.4,319 C718,324 718.6,328 718.6,331.6"/>
<path d="M722,329.6 C735,327.6 746,324 753,319.6" class="t"/>
<path d="M771,322 C766,322.6 760,322.6 755.4,322" class="t"/>
<path d="M720.8,332.6 L720.8,366.6 M724.8,333.4 L724.8,352"/>
<path d="M729.8,333 L729.8,501 M757.2,332 L757.2,498" class="k" style="stroke-width:1.5"/>
<path d="M744.4,333.6 L744.4,500" class="k" style="stroke-width:2.1"/>
<path d="M731,334.4 L731,341 M735.6,334.6 L735.6,341 M740,334.6 L740,341 M747,334 L747,340 M752,334 L752,340 M755.6,333.6 L755.6,340" class="k"/>
<path d="M729.4,341.4 L743.8,341.8 M729.4,344.4 L743.8,344.8 M729.4,349.6 L743.8,350 M745.2,340.6 L757.2,340.2 M745.2,343.6 L757.2,343.2 M745.2,348.6 L757.2,348.2 M729.4,352.4 L743.8,352.8 M745.2,351.4 L757.2,351"/>
<path d="M729.6,348.4 C720,347 711.6,349 709.4,352.6 L709.4,360 C712,364.6 722,367.2 731.6,366.6 L731.6,358.6 C722,358.6 714,356.6 709.4,352.6" class="k" style="stroke-width:1.5"/>
<path d="M709.6,356.4 C714,360.6 723,362.6 731.6,362.6"/>
<path d="M726.8,352 C727.6,355 727.6,357 726.8,358.4" class="k"/>
<path d="M757.4,348 C762,348.4 765.6,350 766.8,352 L766.8,357 C765,358.6 762,359.4 759,359.2 L759,352.6 C762,352.8 765,352.6 766.8,352" class="k" style="stroke-width:1.5"/>
<path d="M762.6,352.8 L762.6,359"/>
<path d="M718,366.6 L718,382.6 L728.8,382.8 L728.8,366.8 M726.6,367 L726.6,382.8"/>
<rect class="f" x="727" y="378.4" width="1.8" height="4.6"/>
<path d="M720.4,382.8 L720.4,428 C720.4,432.4 727.4,432.4 727.4,428 L727.4,382.8" class="k" style="stroke-width:1.5"/>
<path d="M728.8,500.8 C733,503.2 740,503.2 744.4,500.8 M728.8,503.2 C733,505.6 740,505.6 744.4,503.2 M744.6,498 C748,500 754,500 758,497.8 M744.6,500.6 C748,502.6 754,502.6 758,500.4"/>
<path d="M728.8,500.8 L728.8,503.2 M758,497.8 L758,500.4"/>
<path d="M730.8,504.6 L730.8,515 M743.4,504.6 L743.4,516 M745.8,502 L745.8,512.6 M756.6,501.6 L756.6,511.6" class="k" style="stroke-width:1.7"/>
<path d="M731.4,515.6 C735,517.6 740,517.6 743.4,515.6 M746,512.6 C749,514.4 753,514.2 756.4,512" class="k"/>
<path d="M723.6,516.6 C724,514 727,512.6 730.8,512.8 M743.6,513.4 C748,514 751,515.6 751.8,518 C748,521.6 728,521.6 723.6,516.6 L724.2,529 C727,532 733,533.4 739.6,533.2 L751,531.4 L751.8,518" class="k" style="stroke-width:1.8"/>
<path d="M739.4,520.6 L739.6,533.2 M725.6,519.6 L726,530.6" class="k"/>
<path d="M751.8,518 C757,517.6 762,515.6 764.2,512.6 C763.6,510.6 760,509.6 756.8,509.6 M764.2,512.6 L764,525.6 C761,528.6 756,529.8 751.4,530" class="k" style="stroke-width:1.8"/>
<path d="M752.4,518.4 L752.4,530"/>
</g>
</svg>
</body></html>
